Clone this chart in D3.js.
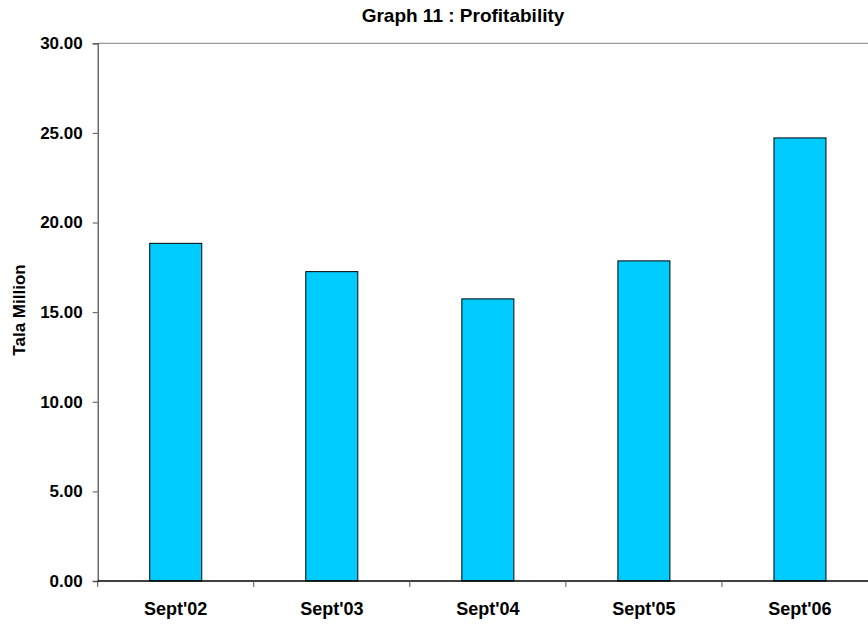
<!DOCTYPE html>
<html>
<head>
<meta charset="utf-8">
<script src="https://cdn.jsdelivr.net/npm/d3@7"></script>
<style>
  html, body { margin: 0; padding: 0; background: #fff; }
  svg { display: block; font-family: "Liberation Sans", Arial, sans-serif; font-weight: bold; }
</style>
</head>
<body>
<svg id="chart" width="868" height="624"></svg>
<script>
// Profit per financial year ending September (Tala, millions)
const categories = ["Sept'02", "Sept'03", "Sept'04", "Sept'05", "Sept'06"];
const profit = [18.84, 17.26, 15.74, 17.86, 24.72];
const yTicks = [0, 5, 10, 15, 20, 25, 30];

const svg = d3.select("#chart");
const plot = { left: 97.7, right: 878, top: 43.3, bottom: 581 };

const x = d3.scaleBand()
  .domain(categories)
  .range([plot.left, plot.right])
  .paddingInner(2 / 3)
  .paddingOuter(1 / 3);

const y = d3.scaleLinear().domain([0, 30]).range([plot.bottom, plot.top]);

// top border of the plot frame
svg.append("line")
  .attr("x1", plot.left).attr("x2", plot.right)
  .attr("y1", plot.top).attr("y2", plot.top)
  .attr("stroke", "#808080").attr("stroke-width", 1);

// bars
svg.append("g").selectAll("rect")
  .data(profit)
  .join("rect")
  .attr("x", (d, i) => x(categories[i]))
  .attr("width", x.bandwidth())
  .attr("y", d => y(d))
  .attr("height", d => y(0) - y(d))
  .attr("fill", "#00CCFF")
  .attr("stroke", "#000")
  .attr("stroke-width", 1);

// y axis
const yAxis = svg.append("g")
  .attr("transform", `translate(${plot.left},0)`)
  .call(d3.axisLeft(y).tickValues(yTicks).tickFormat(d3.format(".2f")).tickSize(5).tickPadding(10));
yAxis.select(".domain").attr("stroke", "#555").attr("stroke-width", 1.3);
yAxis.selectAll(".tick line").attr("stroke", "#555");
yAxis.selectAll(".tick text")
  .attr("fill", "#000")
  .style("font-family", "'Liberation Sans', Arial, sans-serif")
  .style("font-weight", "bold")
  .style("font-size", "17px");

// x axis with tick marks at category boundaries
const bandStep = x.step();
const boundaries = d3.range(categories.length + 1).map(i => plot.left + i * bandStep);
const xg = svg.append("g");
xg.append("line")
  .attr("x1", plot.left).attr("x2", plot.right)
  .attr("y1", plot.bottom).attr("y2", plot.bottom)
  .attr("stroke", "#000").attr("stroke-width", 1.3);
xg.selectAll("line.tk")
  .data(boundaries)
  .join("line")
  .attr("class", "tk")
  .attr("x1", d => d).attr("x2", d => d)
  .attr("y1", plot.bottom).attr("y2", plot.bottom + 6)
  .attr("stroke", "#555");
xg.selectAll("text")
  .data(categories)
  .join("text")
  .attr("x", d => x(d) + x.bandwidth() / 2)
  .attr("y", 615)
  .attr("text-anchor", "middle")
  .style("font-size", "18px")
  .text(d => d);

// title
svg.append("text")
  .attr("x", 463)
  .attr("y", 22)
  .attr("text-anchor", "middle")
  .style("font-size", "19px")
  .text("Graph 11 : Profitability");

// y axis title
svg.append("text")
  .attr("transform", "translate(25,310) rotate(-90)")
  .attr("text-anchor", "middle")
  .style("font-size", "17px")
  .text("Tala Million");
</script>
</body>
</html>
